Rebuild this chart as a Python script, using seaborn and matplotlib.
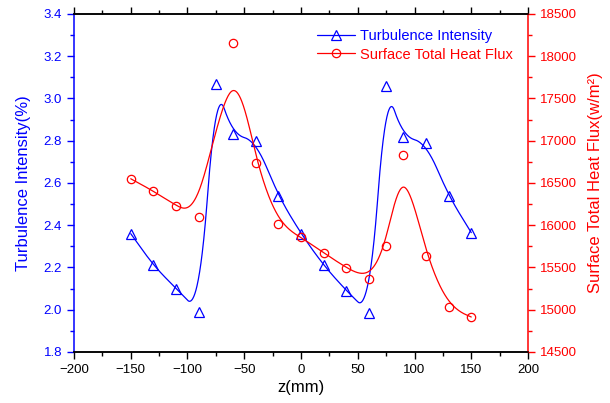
import numpy as np
import pandas as pd
import matplotlib
matplotlib.use("Agg")
import matplotlib.pyplot as plt
import seaborn as sns
from matplotlib.lines import Line2D
from matplotlib.ticker import MultipleLocator

# values
z_mm = [-150, -130, -110, -90, -75, -60, -40, -20, 0, 20, 40, 60, 75, 90, 110, 130, 150]
turbulence = [2.36, 2.21, 2.10, 1.99, 3.07, 2.83, 2.80, 2.54, 2.36, 2.21, 2.09, 1.985, 3.06, 2.82, 2.79, 2.54, 2.365]
z_heat = [-150, -130, -110, -90, -60, -40, -20, 0, 20, 40, 60, 75, 90, 110, 130, 150]
heat_flux = [16550, 16405, 16230, 16100, 18160, 16735, 16015, 15857, 15675, 15494, 15360, 15758, 16828, 15632, 15030, 14914]
legend_labels = ["Turbulence Intensity", "Surface Total Heat Flux"]


# uniform B-spline using the data points as control points (clamped ends)
def bspline(x, y, degree, n=60):
    pts = np.column_stack([x, y]).astype(float)
    pad = degree - 1
    pts = np.vstack([np.repeat(pts[:1], pad, 0), pts, np.repeat(pts[-1:], pad, 0)])
    t = np.linspace(0, 1, n)[:, None]
    if degree == 2:
        basis = [(1 - t) ** 2 / 2, (-2 * t ** 2 + 2 * t + 1) / 2, t ** 2 / 2]
    else:
        basis = [(1 - t) ** 3 / 6, (3 * t ** 3 - 6 * t ** 2 + 4) / 6,
                 (-3 * t ** 3 + 3 * t ** 2 + 3 * t + 1) / 6, t ** 3 / 6]
    segs = [sum(b * pts[i + k] for k, b in enumerate(basis)) for i in range(len(pts) - degree)]
    c = np.vstack(segs)
    return c[:, 0], c[:, 1]


df_t = pd.DataFrame({"z": z_mm, "v": turbulence})
df_h = pd.DataFrame({"z": z_heat, "v": heat_flux})
bx, by = bspline(df_t["z"], df_t["v"], 2)
rx, ry = bspline(df_h["z"], df_h["v"], 3)

sns.set_style("ticks")
plt.rcParams["font.family"] = ["Liberation Sans", "DejaVu Sans"]
plt.rcParams["xtick.major.size"] = 5
plt.rcParams["ytick.major.size"] = 5
plt.rcParams["xtick.minor.size"] = 3
plt.rcParams["ytick.minor.size"] = 3

fig, ax = plt.subplots(figsize=(6.1, 4.03), dpi=100)
fig.subplots_adjust(left=0.1213, right=0.8656, bottom=0.1266, top=0.9653)
ax2 = ax.twinx()

blue, red = "#0000FF", "#FF0000"

sns.lineplot(x=bx, y=by, ax=ax, color=blue, lw=0.9, sort=False, estimator=None)
sns.lineplot(data=df_t, x="z", y="v", ax=ax, color=blue, marker="^", linestyle="none",
             ms=7, mfc="none", mec=blue, mew=0.9)
sns.lineplot(x=rx, y=ry, ax=ax2, color=red, lw=0.9, sort=False, estimator=None)
sns.lineplot(data=df_h, x="z", y="v", ax=ax2, color=red, marker="o", linestyle="none",
             ms=6, mfc="none", mec=red, mew=0.9)

ax.set_xlim(-200, 200)
ax.set_ylim(1.8, 3.4)
ax2.set_ylim(14500, 18500)
ax.xaxis.set_major_locator(MultipleLocator(50))
ax.xaxis.set_minor_locator(MultipleLocator(25))
ax.yaxis.set_major_locator(MultipleLocator(0.2))
ax.yaxis.set_minor_locator(MultipleLocator(0.1))
ax2.yaxis.set_major_locator(MultipleLocator(500))
ax2.yaxis.set_minor_locator(MultipleLocator(250))

ax.set_xlabel("z(mm)", fontsize=12, color="black", labelpad=3)
ax.set_ylabel("Turbulence Intensity(%)", fontsize=12, color=blue, labelpad=9)
ax2.set_ylabel("Surface Total Heat Flux(w/m²)", fontsize=12, color=red, labelpad=8)

ax.tick_params(axis="x", which="both", top=True, labelsize=9.5, colors="black", width=1)
ax.tick_params(axis="y", which="both", labelsize=9.5, colors=blue, width=1)
ax2.tick_params(axis="y", which="both", labelsize=9.5, colors=red, width=1)

for a in (ax, ax2):
    for side in ("top", "bottom"):
        a.spines[side].set_color("black")
        a.spines[side].set_linewidth(1.1)
    a.spines["left"].set_visible(False)
    a.spines["right"].set_visible(False)
ax.spines["left"].set_visible(True)
ax.spines["left"].set_color(blue)
ax.spines["left"].set_linewidth(1.1)
ax2.spines["right"].set_visible(True)
ax2.spines["right"].set_color(red)
ax2.spines["right"].set_linewidth(1.1)

handles = [
    Line2D([], [], color=blue, lw=0.9, marker="^", ms=7, mfc="none", mec=blue, mew=0.9),
    Line2D([], [], color=red, lw=0.9, marker="o", ms=6, mfc="none", mec=red, mew=0.9),
]
ax2.legend(handles, legend_labels, loc="upper left", bbox_to_anchor=(0.535, 0.955),
           frameon=False, fontsize=10.5, labelcolor=[blue, red], handlelength=2.6,
           handletextpad=0.35, labelspacing=0.3, borderpad=0, borderaxespad=0)

fig.savefig("out.png", dpi=100)
